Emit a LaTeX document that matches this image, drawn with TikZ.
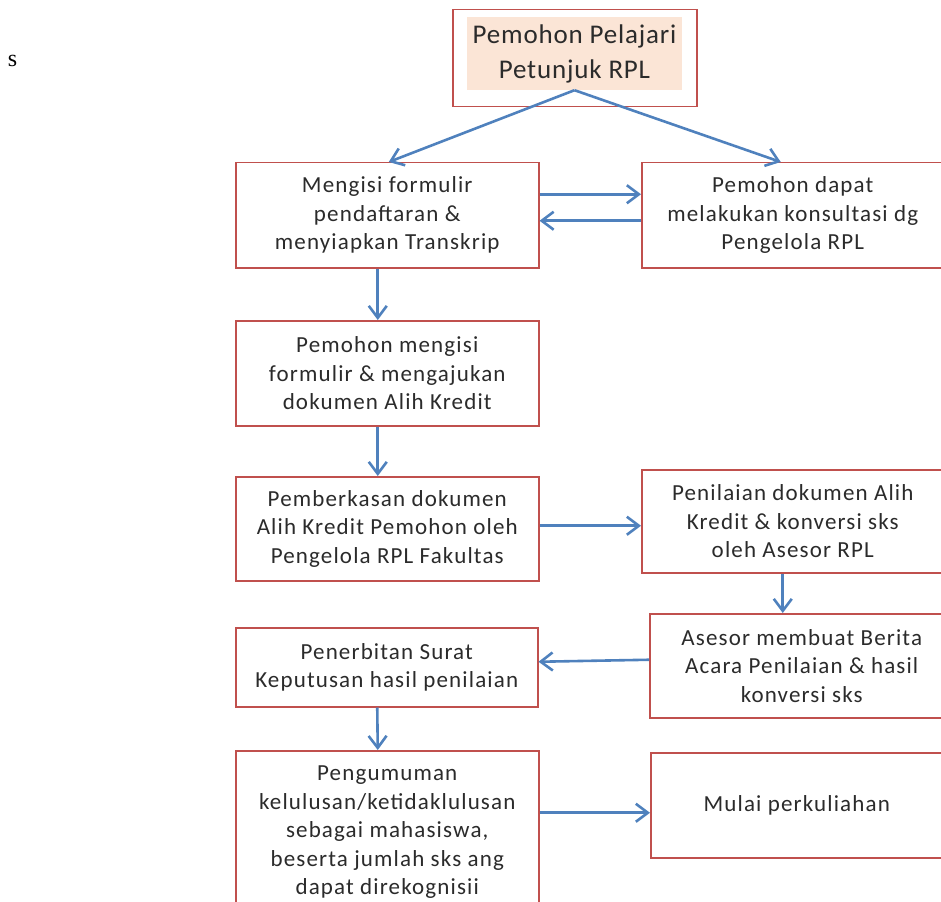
\documentclass[tikz,border=0pt]{standalone}
\usepackage{fontspec}
\setmainfont{Carlito}
\newfontfamily\rplserif{Liberation Serif}
\usetikzlibrary{
arrows.meta
}
\definecolor{RPLRed}{HTML}{C0504D}
\definecolor{RPLBlue}{HTML}{4F81BD}
\definecolor{RPLPeach}{HTML}{FBE5D6}
\definecolor{RPLText}{HTML}{2B2B2B}
\tikzset{
rplbox/.style={draw=RPLRed, line width=1.5pt, fill=white, align=center, anchor=north west,
  inner sep=0pt, text=RPLText, font=\fontsize{23}{28.5}\selectfont\addfontfeatures{LetterSpace=5}},
rpltitle/.style={fill=RPLPeach, align=center, inner sep=0pt, text=RPLText,
  font=\fontsize{27}{35}\selectfont\addfontfeatures{LetterSpace=3}},
rplarrow/.style={-{Straight Barb[length=12pt,width=18pt]}, line width=2.6pt, draw=RPLBlue}
}
\begin{document}
\begin{tikzpicture}[x=1pt, y=-1pt]
\clip (0,0) rectangle (941,901);
\node[font=\rplserif\fontsize{24}{26}\selectfont, inner sep=0pt] (mark) at (12.5,61) {s};
\node[rplbox, minimum width=244pt, minimum height=97pt] (frame) at (452,9) {};
\node[rpltitle, minimum width=215pt, minimum height=73pt] (title) at (574.5,53.5) {Pemohon Pelajari\\Petunjuk RPL};
\node[rplbox, minimum width=303pt, minimum height=105pt] (daftar) at (235,162) {Mengisi formulir\\pendaftaran \&\\menyiapkan Transkrip};
\node[rplbox, minimum width=302pt, minimum height=105pt] (konsul) at (641,162) {Pemohon dapat\\melakukan konsultasi dg\\Pengelola RPL};
\node[rplbox, minimum width=303pt, minimum height=105pt] (ajukan) at (235,320) {Pemohon mengisi\\formulir \& mengajukan\\dokumen Alih Kredit};
\node[rplbox, minimum width=303pt, minimum height=104pt] (berkas) at (235,476) {Pemberkasan dokumen\\Alih Kredit Pemohon oleh\\Pengelola RPL Fakultas};
\node[rplbox, minimum width=302pt, minimum height=103pt] (nilai) at (641,469) {Penilaian dokumen Alih\\Kredit \& konversi sks\\oleh Asesor RPL};
\node[rplbox, minimum width=304pt, minimum height=104pt] (asesor) at (649,613) {Asesor membuat Berita\\Acara Penilaian \& hasil\\konversi sks};
\node[rplbox, minimum width=302pt, minimum height=79pt] (terbit) at (235,627) {Penerbitan Surat\\Keputusan hasil penilaian};
\node[rplbox, minimum width=303pt, minimum height=163pt] (umum) at (235,750) {Pengumuman\\kelulusan/ketidaklulusan\\sebagai mahasiswa,\\beserta jumlah sks ang\\dapat direkognisii};
\node[rplbox, minimum width=292pt, minimum height=105pt] (mulai) at (650,752) {Mulai perkuliahan};
% alur
\draw[rplarrow] (title.south) -- ([xshift=1.5pt]daftar.north);
\draw[rplarrow] (title.south) -- ([xshift=-12pt]konsul.north);
\draw[rplarrow] ([yshift=21pt]daftar.east) -- ([yshift=21pt]konsul.west);
\draw[rplarrow] ([yshift=-5.5pt]konsul.west) -- ([yshift=-5.5pt]daftar.east);
\foreach \a/\b in {daftar/ajukan,ajukan/berkas,terbit/umum}
\draw[rplarrow] ([xshift=-9.5pt]\a.south) -- ([xshift=-9.5pt]\b.north);
\draw[rplarrow] ([yshift=3pt]berkas.east) -- ([yshift=3pt]berkas.east -| nilai.west);
\draw[rplarrow] ([xshift=-10pt]nilai.south) -- ([xshift=-10pt]nilai.south |- asesor.north);
\draw[rplarrow] ([yshift=6pt]asesor.west) -- ([yshift=5.5pt]terbit.east);
\draw[rplarrow] ([yshift=-7.5pt]mulai.west -| umum.east) -- ([yshift=-7.5pt]mulai.west);
\end{tikzpicture}
\end{document}
